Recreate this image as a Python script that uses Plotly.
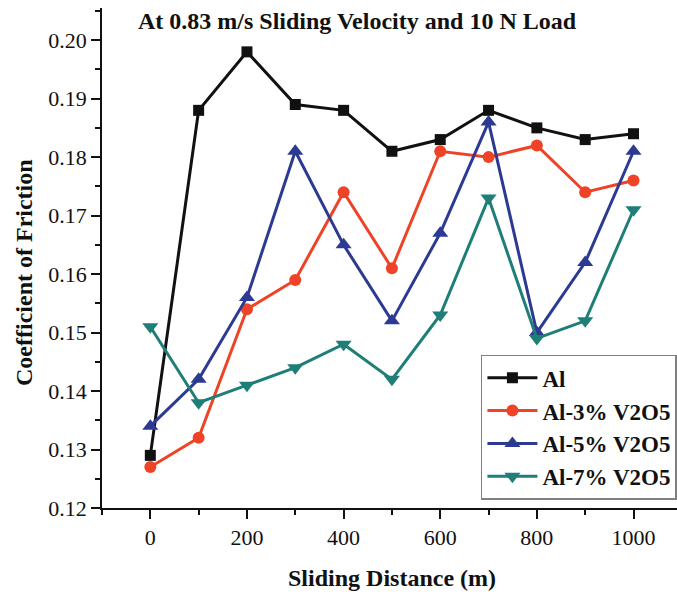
import plotly.graph_objects as go

distance = [0, 100, 200, 300, 400, 500, 600, 700, 800, 900, 1000]
al = [0.129, 0.188, 0.198, 0.189, 0.188, 0.181, 0.183, 0.188, 0.185, 0.183, 0.184]
al3 = [0.127, 0.132, 0.154, 0.159, 0.174, 0.161, 0.181, 0.180, 0.182, 0.174, 0.176]
al5 = [0.134, 0.142, 0.156, 0.181, 0.165, 0.152, 0.167, 0.186, 0.150, 0.162, 0.181]
al7 = [0.151, 0.138, 0.141, 0.144, 0.148, 0.142, 0.153, 0.173, 0.149, 0.152, 0.171]
names = ["Al", "Al-3% V2O5", "Al-5% V2O5", "Al-7% V2O5"]
y_ticks = [0.12, 0.13, 0.14, 0.15, 0.16, 0.17, 0.18, 0.19, 0.20]
x_ticks = [0, 200, 400, 600, 800, 1000]

FONT = "Liberation Serif, Times New Roman, serif"
styles = [
    ("#111111", "square", 11),
    ("#EE4326", "circle", 12),
    ("#2D3A92", "triangle-up", 14),
    ("#1F7E77", "triangle-down", 14),
]

fig = go.Figure()
for name, vals, (col, sym, sz) in zip(names, [al, al3, al5, al7], styles):
    fig.add_trace(go.Scatter(
        x=distance, y=vals, name=name, mode="lines+markers",
        line=dict(color=col, width=3),
        marker=dict(symbol=sym, size=sz, color=col),
    ))

fig.update_layout(
    width=677, height=598,
    margin=dict(l=102, r=0, t=8, b=90),
    paper_bgcolor="white", plot_bgcolor="white",
    font=dict(family=FONT, color="#111111"),
    showlegend=True,
    legend=dict(
        x=0.659, y=0.3066, xanchor="left", yanchor="top",
        bordercolor="#808080", borderwidth=1.5, bgcolor="white",
        font=dict(family=FONT, size=23, color="#111111", weight="bold"),
        tracegroupgap=0, itemwidth=50,
    ),
    annotations=[
        dict(text="At 0.83 m/s Sliding Velocity and 10 N Load",
             xref="paper", yref="paper", x=0.059, y=0.974,
             xanchor="left", yanchor="middle", showarrow=False,
             font=dict(family=FONT, size=24, color="#111111", weight="bold")),
        dict(text="Sliding Distance (m)",
             xref="paper", yref="paper", x=0.5052, y=-0.14,
             xanchor="center", yanchor="middle", showarrow=False,
             font=dict(family=FONT, size=24, color="#111111", weight="bold")),
        dict(text="Coefficient of Friction", textangle=-90,
             xref="paper", yref="paper", x=-0.1357, y=0.472,
             xanchor="center", yanchor="middle", showarrow=False,
             font=dict(family=FONT, size=24, color="#111111", weight="bold")),
    ],
)

fig.update_xaxes(
    range=[-100, 1090], tickvals=x_ticks, ticktext=[str(v) for v in x_ticks],
    showline=True, linecolor="#111111", linewidth=1.5, mirror=False,
    showgrid=False, zeroline=False,
    ticks="outside", ticklen=9, tickwidth=1.5, tickcolor="#111111",
    tickfont=dict(family=FONT, size=22, color="#111111"),
    minor=dict(ticks="outside", ticklen=5, tickwidth=1.5, tickcolor="#111111",
               tick0=0, dtick=100, showgrid=False),
)
fig.update_yaxes(
    range=[0.12, 0.2055], tickvals=y_ticks, ticktext=["%.2f" % v for v in y_ticks],
    showline=True, linecolor="#111111", linewidth=1.5, mirror=False,
    showgrid=False, zeroline=False,
    ticks="outside", ticklen=9, tickwidth=1.5, tickcolor="#111111",
    tickfont=dict(family=FONT, size=22, color="#111111"),
    minor=dict(ticks="outside", ticklen=5, tickwidth=1.5, tickcolor="#111111",
               tick0=0.12, dtick=0.005, showgrid=False),
)

fig.write_html("out.html")
